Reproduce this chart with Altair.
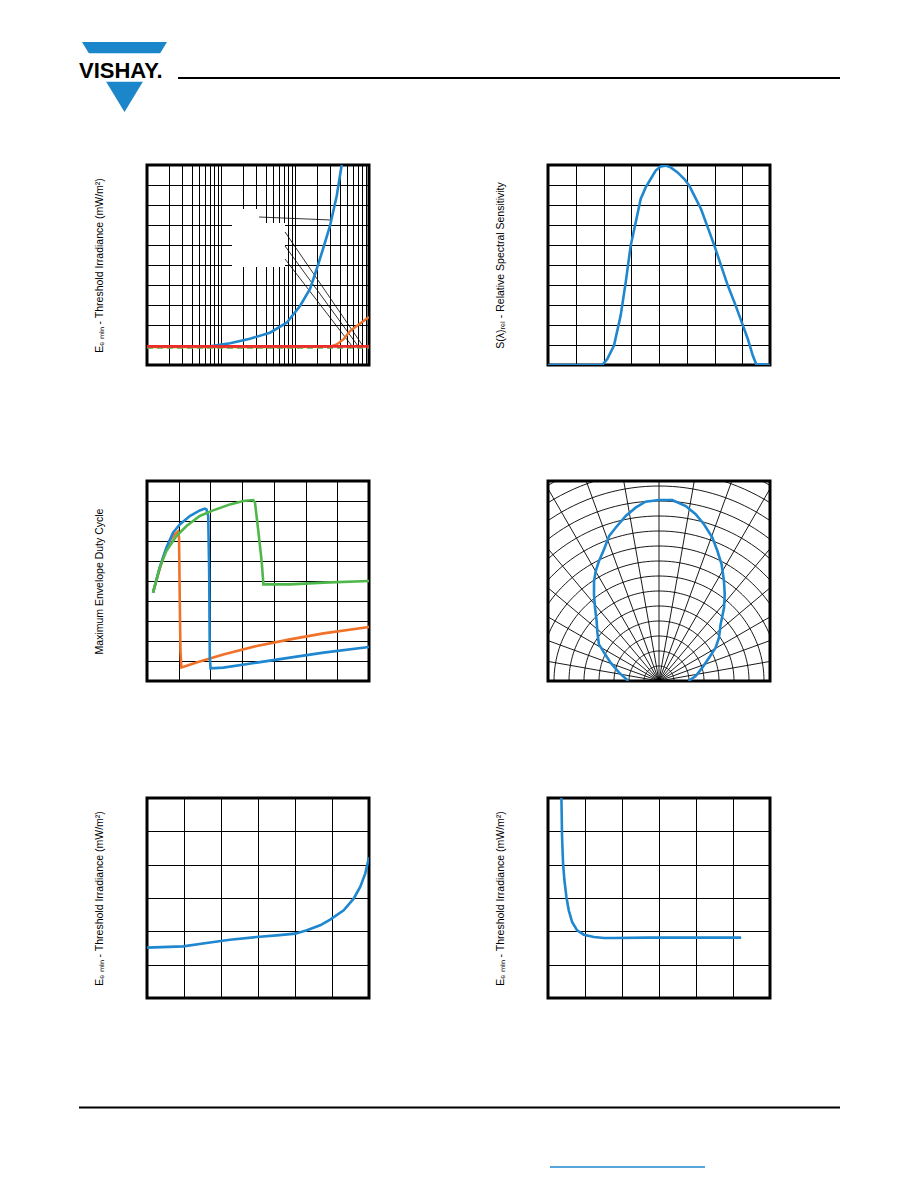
import altair as alt
import pandas as pd

FONT = "Liberation Sans"
BLUE = "#1f87cf"
LOGO_BLUE = "#1b86c9"
ORANGE = "#f07228"
RED = "#ee2a2a"
GREEN = "#4fb84a"

# ---------------- data ----------------
# Fig 1: threshold irradiance vs. ambient DC irradiance (log x)
f1_blue_x = [0.01, 0.03, 0.0709, 0.1324, 0.2466, 0.459, 0.772, 1.169, 1.595, 1.965, 2.39, 2.97, 3.66, 4.36]
f1_blue_y = [0.92, 0.92, 0.93, 1.085, 1.315, 1.615, 2.115, 2.95, 3.8, 4.8, 5.8, 6.95, 8.45, 10.2]
f1_orange_x = [0.01, 1.0, 3.0, 3.66, 4.5, 5.54, 6.82, 10.0]
f1_orange_y = [0.90, 0.90, 0.92, 1.03, 1.28, 1.70, 1.95, 2.40]
f1_green_x = [0.01, 10.0]
f1_green_y = [0.86, 0.86]
f1_red_x = [0.01, 10.0]
f1_red_y = [0.93, 0.93]
f1_box_x1 = [0.141, 0.198]
f1_box_x2 = [0.733, 0.358]
f1_box_y1 = [4.9, 7.0]
f1_box_y2 = [7.1, 7.8]
f1_lead_x1 = [0.327, 0.733, 0.733, 0.733]
f1_lead_y1 = [7.4, 6.65, 5.95, 5.3]
f1_lead_x2 = [3.07, 8.29, 7.10, 5.89]
f1_lead_y2 = [7.25, 0.95, 0.95, 0.95]
f1_xticks = [m * 10.0 ** e for e in (-2, -1, 0) for m in range(1, 10)] + [10.0]
f1_yticks = list(range(0, 11))

# Fig 2: relative spectral sensitivity vs. wavelength
f2_nm = [750, 800, 847.7, 856.8, 868.9, 880.9, 890, 899, 908, 917, 926, 935, 944, 953, 962, 971,
         983.5, 995.6, 1004.6, 1013.6, 1025.7, 1037.8, 1049.8, 1061.9, 1074, 1086, 1098, 1110,
         1119, 1125, 1150]
f2_s = [0, 0, 0, 0.03, 0.097, 0.247, 0.413, 0.597, 0.713, 0.83, 0.888, 0.93, 0.972, 0.993, 0.997,
        0.988, 0.963, 0.93, 0.897, 0.847, 0.78, 0.688, 0.597, 0.497, 0.397, 0.313, 0.222, 0.13,
        0.047, 0.005, 0]
f2_xticks = list(range(750, 1151, 50))
f2_yticks = [i / 10 for i in range(11)]

# Fig 3: maximum envelope duty cycle vs. burst length
f3_blue_x = [3.8, 8.0, 12.2, 16.4, 20.7, 27.0, 33.3, 36.5, 37.5, 38.6, 39.2, 39.6, 40.1, 48.1, 69.2, 90.2, 111.3, 140]
f3_blue_y = [0.442, 0.567, 0.667, 0.742, 0.783, 0.825, 0.853, 0.862, 0.858, 0.825, 0.55, 0.117, 0.063, 0.067, 0.092, 0.117, 0.142, 0.17]
f3_orange_x = [3.8, 7.0, 10.1, 14.3, 17.5, 19.6, 20.2, 20.7, 21.1, 21.7, 31.2, 48.1, 69.2, 90.2, 111.3, 140]
f3_orange_y = [0.442, 0.533, 0.617, 0.70, 0.733, 0.747, 0.717, 0.383, 0.15, 0.067, 0.092, 0.133, 0.175, 0.208, 0.238, 0.27]
f3_green_x = [3.8, 8.0, 12.2, 18.6, 24.9, 33.3, 41.7, 52.3, 60.7, 67.0, 68.1, 70.2, 72.3, 73.4, 90.2, 111.3, 140]
f3_green_y = [0.442, 0.567, 0.65, 0.725, 0.775, 0.825, 0.853, 0.883, 0.90, 0.905, 0.892, 0.75, 0.60, 0.483, 0.483, 0.492, 0.50]
f3_xticks = list(range(0, 141, 20))
f3_yticks = [i / 10 for i in range(11)]

# Fig 4: relative sensitivity vs. angular displacement (polar)
f4_angle = [-90, -78.2, -69.2, -62.7, -58.6, -51.9, -46.1, -41.1, -36.9, -33.0, -29.9, -26.6, -22.7,
            -19.0, -15.8, -11.4, -7.7, -4.3, 0, 4.2, 8.7, 12.4, 16.0, 20.4, 24.2, 28.2, 33.0, 37.2,
            41.6, 47.4, 54.2, 59.5, 65.0, 72.9, 82.2, 90]
f4_r = [0.204, 0.272, 0.345, 0.412, 0.469, 0.522, 0.577, 0.649, 0.722, 0.795, 0.846, 0.894, 0.951,
        1.022, 1.062, 1.122, 1.166, 1.199, 1.207, 1.21, 1.18, 1.138, 1.087, 1.02, 0.95, 0.883, 0.795,
        0.725, 0.653, 0.558, 0.493, 0.438, 0.368, 0.302, 0.247, 0.196]
f4_grid_radii = [i / 10 for i in range(1, 17)]
f4_grid_angles = list(range(-90, 91, 10))

# Fig 5: threshold irradiance vs. ambient temperature
f5_x = [-30, -10.5, 2.2, 14.8, 29.3, 40.1, 50.1, 56.4, 63.6, 69.0, 76.3, 81.7, 85.3, 88.0, 90]
f5_y = [0.151, 0.155, 0.165, 0.175, 0.183, 0.188, 0.193, 0.203, 0.218, 0.235, 0.263, 0.298, 0.334, 0.374, 0.422]
f5_xticks = list(range(-30, 91, 20))
f5_yticks = [i / 10 for i in range(7)]

# Fig 6: threshold irradiance vs. supply voltage
f6_x = [0.355, 0.362, 0.38, 0.407, 0.443, 0.498, 0.561, 0.652, 0.787, 0.968, 1.24, 1.51, 1.78, 2.69, 5.22]
f6_y = [0.65, 0.605, 0.484, 0.404, 0.354, 0.303, 0.263, 0.228, 0.203, 0.19, 0.183, 0.18, 0.18, 0.181, 0.181]
f6_xticks = list(range(0, 7))
f6_yticks = [i / 10 for i in range(7)]

T_EMIN = "E\u2091 \u2098\u1d62\u2099 - Threshold Irradiance (mW/m\u00b2)"
T_SREL = "S(\u03bb)\u1d63\u2091\u2097 - Relative Spectral Sensitivity"
T_DUTY = "Maximum Envelope Duty Cycle"

PW, PH = 222, 200
LW = 2.6


def ax(vals, title=None):
    d = dict(values=vals, grid=True, labels=False, ticks=False, domain=False,
             gridColor="black", gridWidth=1, gridOpacity=1)
    if title is None:
        d["title"] = None
    else:
        d.update(title=title, titleFont=FONT, titleFontSize=10.5, titleFontWeight="normal",
                 titleColor="black", titlePadding=43)
    return alt.Axis(**d)


def line(xs, ys, sx, sy, axx, axy, color, width=LW, dash=None):
    df = pd.DataFrame({"x": xs, "y": ys, "i": range(len(xs))})
    kw = dict(color=color, strokeWidth=width, clip=True)
    if dash is not None:
        kw["strokeDash"] = dash
    return alt.Chart(df).mark_line(**kw).encode(
        x=alt.X("x:Q", scale=sx, axis=axx),
        y=alt.Y("y:Q", scale=sy, axis=axy),
        order="i:Q",
    )


def panel(layers):
    return alt.layer(*layers).properties(
        width=PW, height=PH,
        view=alt.ViewBackground(stroke="black", strokeWidth=3, fill="white"),
    )


def spacer(w, h):
    return alt.Chart(pd.DataFrame({"s": [0]})).mark_point(size=1, opacity=0).encode(
        x=alt.value(w / 2), y=alt.value(h / 2)
    ).properties(width=w, height=h)


# ---------- Fig 1 ----------
s1x = alt.Scale(type="log", domain=[0.01, 10], nice=False)
s1y = alt.Scale(domain=[0, 10], nice=False, zero=False)
a1x = ax(f1_xticks)
a1y = ax(f1_yticks, T_EMIN)
box_df = pd.DataFrame({"x": f1_box_x1, "x2": f1_box_x2, "y": f1_box_y1, "y2": f1_box_y2})
box = alt.Chart(box_df).mark_rect(color="white", clip=True).encode(
    x=alt.X("x:Q", scale=s1x, axis=a1x), x2="x2:Q",
    y=alt.Y("y:Q", scale=s1y, axis=a1y), y2="y2:Q")
lead_df = pd.DataFrame({"x": f1_lead_x1, "x2": f1_lead_x2, "y": f1_lead_y1, "y2": f1_lead_y2})
lead = alt.Chart(lead_df).mark_rule(color="black", strokeWidth=0.8, clip=True).encode(
    x=alt.X("x:Q", scale=s1x, axis=a1x), x2="x2:Q",
    y=alt.Y("y:Q", scale=s1y, axis=a1y), y2="y2:Q")
fig1 = panel([
    box, lead,
    line(f1_blue_x, f1_blue_y, s1x, s1y, a1x, a1y, BLUE),
    line(f1_orange_x, f1_orange_y, s1x, s1y, a1x, a1y, ORANGE, 2.4),
    line(f1_green_x, f1_green_y, s1x, s1y, a1x, a1y, GREEN, 2.0, [6, 4]),
    line(f1_red_x, f1_red_y, s1x, s1y, a1x, a1y, RED),
])

# ---------- Fig 2 ----------
s2x = alt.Scale(domain=[750, 1150], nice=False, zero=False)
s2y = alt.Scale(domain=[0, 1], nice=False)
fig2 = panel([line(f2_nm, f2_s, s2x, s2y, ax(f2_xticks), ax(f2_yticks, T_SREL), BLUE)])

# ---------- Fig 3 ----------
s3x = alt.Scale(domain=[0, 140], nice=False)
s3y = alt.Scale(domain=[0, 1], nice=False)
a3x = ax(f3_xticks)
a3y = ax(f3_yticks, T_DUTY)
fig3 = panel([
    line(f3_orange_x, f3_orange_y, s3x, s3y, a3x, a3y, ORANGE),
    line(f3_blue_x, f3_blue_y, s3x, s3y, a3x, a3y, BLUE),
    line(f3_green_x, f3_green_y, s3x, s3y, a3x, a3y, GREEN),
])

# ---------- Fig 4 (polar) ----------
s4x = alt.Scale(domain=[-0.74, 0.74], nice=False, zero=False)
s4y = alt.Scale(domain=[0, 4 / 3], nice=False)
a4 = alt.Axis(labels=False, ticks=False, domain=False, grid=False, title=None)
circ_rows = [{"r": r, "a": a} for r in f4_grid_radii for a in range(-90, 91, 2)]
circles = alt.Chart(pd.DataFrame(circ_rows)).transform_calculate(
    px="datum.r * sin(datum.a * PI / 180)", py="datum.r * cos(datum.a * PI / 180)"
).mark_line(color="black", strokeWidth=0.9, clip=True).encode(
    x=alt.X("px:Q", scale=s4x, axis=a4), y=alt.Y("py:Q", scale=s4y, axis=a4),
    detail="r:N", order="a:Q")
spokes = alt.Chart(pd.DataFrame({"a": f4_grid_angles})).transform_calculate(
    x0="0", y0="0",
    x1="1.8 * sin(datum.a * PI / 180)", y1="1.8 * cos(datum.a * PI / 180)"
).mark_rule(color="black", strokeWidth=0.9, clip=True).encode(
    x=alt.X("x0:Q", scale=s4x, axis=a4), x2="x1:Q",
    y=alt.Y("y0:Q", scale=s4y, axis=a4), y2="y1:Q")
lobe = alt.Chart(pd.DataFrame({"a": f4_angle, "r": f4_r, "i": range(len(f4_r))})).transform_calculate(
    px="datum.r * sin(datum.a * PI / 180)", py="datum.r * cos(datum.a * PI / 180)"
).mark_line(color=BLUE, strokeWidth=LW, clip=True).encode(
    x=alt.X("px:Q", scale=s4x, axis=a4), y=alt.Y("py:Q", scale=s4y, axis=a4), order="i:Q")
fig4 = panel([circles, spokes, lobe])

# ---------- Fig 5 ----------
s5x = alt.Scale(domain=[-30, 90], nice=False, zero=False)
s5y = alt.Scale(domain=[0, 0.6], nice=False)
fig5 = panel([line(f5_x, f5_y, s5x, s5y, ax(f5_xticks), ax(f5_yticks, T_EMIN), BLUE)])

# ---------- Fig 6 ----------
s6x = alt.Scale(domain=[0, 6], nice=False)
s6y = alt.Scale(domain=[0, 0.6], nice=False)
fig6 = panel([line(f6_x, f6_y, s6x, s6y, ax(f6_xticks), ax(f6_yticks, T_EMIN), BLUE)])

# ---------- header / footer ----------
one = pd.DataFrame({"s": [0]})
tri = alt.Chart(one).mark_point(shape="M-1,-0.8235L1,-0.8235L0,0.8235Z", filled=True, size=7225,
                                color=LOGO_BLUE, opacity=1, strokeWidth=0).encode(
    x=alt.value(116.5), y=alt.value(69))
band = alt.Chart(one).mark_rect(color="white").encode(
    x=alt.value(60), x2=alt.value(170), y=alt.value(45.3), y2=alt.value(73.7))
logo_txt = alt.Chart(one).mark_text(text="VISHAY.", font=FONT, fontWeight="bold", fontSize=22,
                                    align="left", baseline="alphabetic", color="black").encode(
    x=alt.value(71), y=alt.value(69.5))
head_rule = alt.Chart(one).mark_rule(color="black", strokeWidth=2).encode(
    x=alt.value(170), x2=alt.value(832), y=alt.value(70))
header = alt.layer(tri, band, logo_txt, head_rule).properties(width=840, height=155)

foot_rule = alt.Chart(one).mark_rule(color="black", strokeWidth=2).encode(
    x=alt.value(71), x2=alt.value(832), y=alt.value(107.5))
foot_link = alt.Chart(one).mark_rule(color=BLUE, strokeWidth=1.5).encode(
    x=alt.value(542), x2=alt.value(697), y=alt.value(167))
footer = alt.layer(foot_rule, foot_link).properties(width=840, height=175)


def row(left, right):
    return alt.hconcat(spacer(139, 1), left, spacer(179, 1), right, spacing=0, bounds="flush")


chart = alt.vconcat(
    header,
    row(fig1, fig2),
    spacer(1, 112),
    row(fig3, fig4),
    spacer(1, 113),
    row(fig5, fig6),
    footer,
    spacing=0,
).properties(padding=0, background="white").configure_view(strokeWidth=0)

chart.save("out.html", embed_options={"renderer": "svg", "actions": False})
